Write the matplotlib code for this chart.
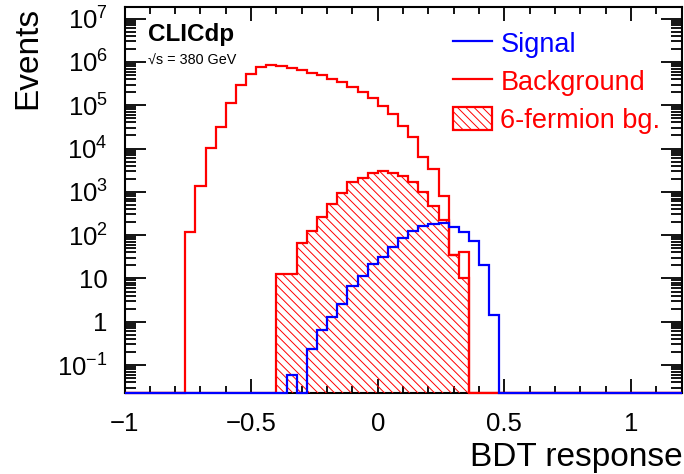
"""
BDT 响应分布：信号 / 本底 / 6-费米子本底（对数纵轴）。
"""

import numpy as np
import matplotlib.pyplot as plt
from matplotlib.lines import Line2D
from matplotlib.patches import Patch
from matplotlib.ticker import FixedLocator, FuncFormatter, MultipleLocator, LogLocator

plt.rcParams["font.family"] = ["Liberation Sans", "DejaVu Sans"]
plt.rcParams["mathtext.fontset"] = "custom"
plt.rcParams["mathtext.rm"] = "Liberation Sans"
plt.rcParams["mathtext.it"] = "Liberation Sans:italic"
plt.rcParams["hatch.linewidth"] = 0.7

# 直方图分箱：-1 .. 1.2，宽 0.04
bin_lo, bin_hi, bin_w = -1.0, 1.2, 0.04

# 本底（从 -0.76 开始的非零箱）
bkg_start = -0.76
bkg_counts = [120, 1390, 10300, 32000, 111000, 294000, 520000, 755000, 870000, 820000,
              740000, 650000, 565000, 500000, 405000, 350000, 270000, 206000, 145000, 98000,
              63000, 33000, 18800, 6500, 3400, 820, 35, 40]

# 6-费米子本底（从 -0.40 开始）
sixf_start = -0.40
sixf_counts = [12.6, 12.6, 65, 125, 268, 525, 955, 1660, 2130, 2680,
               2990, 2770, 2330, 1660, 1000, 470, 225, 35, 10]

# 信号（从 -0.36 开始）
sig_start = -0.36
sig_counts = [0.06, 0, 0.23, 0.65, 1.3, 2.6, 6.8, 11.5, 22, 32,
              54, 86, 127, 163, 185, 194, 151, 120, 74, 20, 1.4]

y_min, y_max = 0.0227, 1.9e7


def full_hist(start, counts):
    n = int(round((bin_hi - bin_lo) / bin_w))
    vals = np.zeros(n)
    i0 = int(round((start - bin_lo) / bin_w))
    vals[i0:i0 + len(counts)] = counts
    # 零计数画在下边框上
    return np.clip(vals, y_min, None)


edges = np.linspace(bin_lo, bin_hi, int(round((bin_hi - bin_lo) / bin_w)) + 1)

fig = plt.figure(figsize=(6.84, 4.74), dpi=100)
ax = fig.add_axes([124.5 / 684, 1 - 393 / 474, 557.2 / 684, 386.5 / 474])

hatch = "\\" * 4
ax.stairs(full_hist(sixf_start, sixf_counts), edges, fill=True, baseline=y_min,
          facecolor="none", edgecolor="#ff0000", hatch=hatch, linewidth=1.6, zorder=3)
ax.stairs(full_hist(bkg_start, bkg_counts), edges, color="#ff0000", linewidth=1.6,
          baseline=None, zorder=4, clip_on=False)
ax.stairs(full_hist(sig_start, sig_counts), edges, color="#0000ff", linewidth=1.6,
          baseline=None, zorder=5, clip_on=False)

ax.set_yscale("log")
ax.set_xlim(bin_lo, bin_hi)
ax.set_ylim(y_min, y_max)

ax.xaxis.set_major_locator(MultipleLocator(0.5))
ax.xaxis.set_minor_locator(MultipleLocator(0.1))
ax.xaxis.set_major_formatter(FuncFormatter(lambda v, _p: f"{v:g}".replace("-", "\u2212")))
ax.yaxis.set_major_locator(FixedLocator([10.0 ** k for k in range(-1, 8)]))
ax.yaxis.set_minor_locator(LogLocator(base=10, subs=np.arange(2, 10), numticks=20))


def ylab(v, _pos):
    k = int(round(np.log10(v)))
    if k == 0:
        return "1"
    if k == 1:
        return "10"
    return rf"$10^{{{k}}}$"


ax.yaxis.set_major_formatter(FuncFormatter(ylab))

ax.tick_params(which="both", direction="in", top=True, right=True, width=1.3)
ax.tick_params(axis="x", which="major", length=10, labelsize=18.5, pad=14)
ax.tick_params(axis="x", which="minor", length=5)
ax.tick_params(axis="y", which="major", length=15, labelsize=18.5, pad=12)
ax.tick_params(axis="y", which="minor", length=8)
for sp in ax.spines.values():
    sp.set_linewidth(1.5)

ax.set_xlabel("BDT response", fontsize=24, loc="right")
ax.xaxis.set_label_coords(1.002, -0.127)
ax.set_ylabel("Events", fontsize=24, loc="top")
ax.yaxis.set_label_coords(-0.146, 1.0)

ax.text(148 / 684, 1 - 41 / 474, "CLICdp", transform=fig.transFigure,
        fontsize=17.5, fontweight="bold")
ax.text(148 / 684, 1 - 65 / 474, "\u221as = 380 GeV", transform=fig.transFigure,
        fontsize=10.4)

handles = [
    Line2D([], [], color="#0000ff", linewidth=1.6),
    Line2D([], [], color="#ff0000", linewidth=1.6),
    Patch(facecolor="none", edgecolor="#ff0000", hatch=hatch, linewidth=1.6),
]
ax.legend(handles, ["Signal", "Background", "6-fermion bg."],
          labelcolor=["#0000ff", "#ff0000", "#ff0000"],
          loc="upper left", bbox_to_anchor=(453 / 684, 1 - 31 / 474),
          bbox_transform=fig.transFigure, frameon=False, fontsize=19.5,
          handlelength=1.45, handleheight=0.95, handletextpad=0.3,
          labelspacing=0.4, borderpad=0, borderaxespad=0)

fig.savefig("out.png", dpi=100)
